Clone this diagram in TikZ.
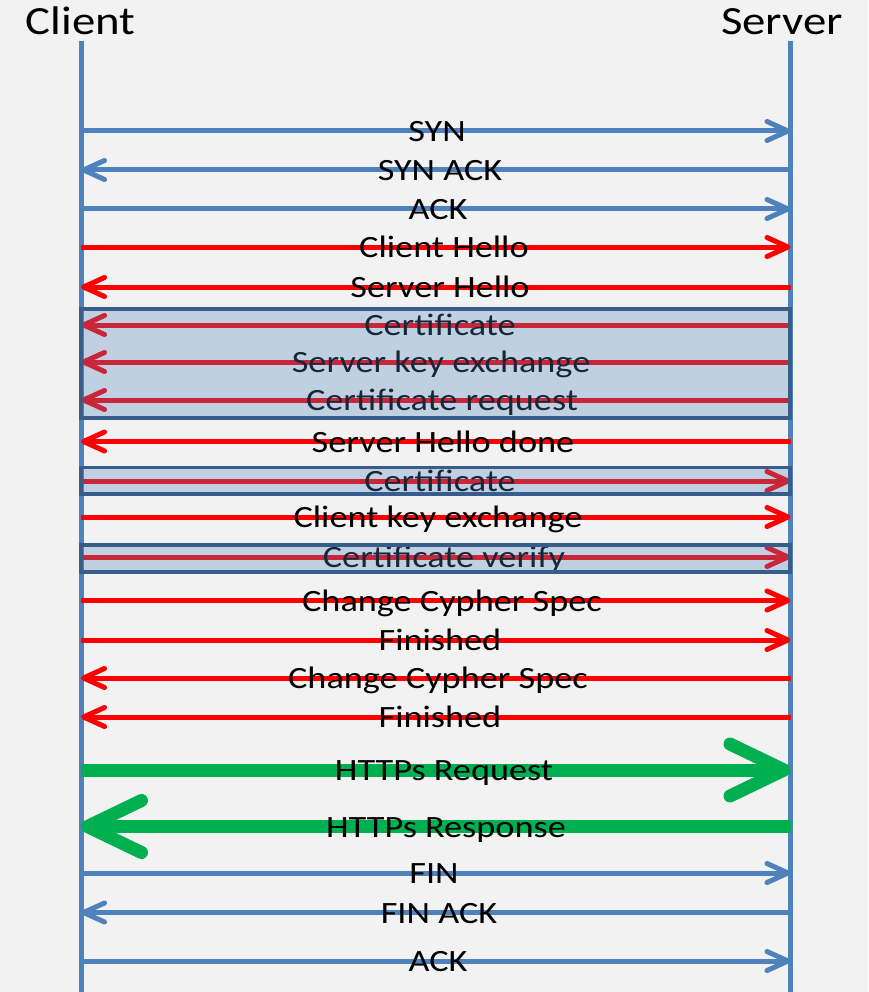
\documentclass[tikz,border=0pt]{standalone}
\usepackage{fontspec}
\setmainfont{Carlito}
\newfontfamily\widefont[FakeStretch=1.17]{Carlito}
\usetikzlibrary{arrows.meta}
\definecolor{lane}{HTML}{4F81BD}
\definecolor{msgred}{HTML}{FF0000}
\definecolor{msggreen}{HTML}{00B050}
\definecolor{boxedge}{HTML}{385D8A}
\definecolor{paper}{HTML}{F2F2F2}
\begin{document}
\begin{tikzpicture}[x=1pt,y=-1pt,
  lifeline/.style={draw=lane, line width=5pt},
  tcp/.style={draw=lane, line width=5pt, -{Straight Barb[length=21pt,width=19pt,round]}},
  tls/.style={draw=msgred, line width=5pt, -{Straight Barb[length=21pt,width=19pt,round]}},
  app/.style={draw=msggreen, line width=13pt, -{Straight Barb[length=54pt,width=52pt,round]}},
  lbl/.style={font=\widefont\fontsize{31}{33}\selectfont, anchor=base, inner sep=0pt},
  head/.style={font=\widefont\fontsize{40}{44}\selectfont, anchor=base, inner sep=0pt},
  grp/.style={draw=boxedge, line width=3.5pt, fill=lane, fill opacity=0.3}
]
\useasboundingbox (0,0) rectangle (868,992);
\fill[paper] (0,0) rectangle (868,992);

% parties and their lifelines
\node[head] (client) at (80.5,35) {Client};
\node[head] (server) at (782,35) {Server};
\coordinate (ctop) at (81,41);
\coordinate (cbot) at (81,996);
\coordinate (stop) at (790.5,41);
\coordinate (sbot) at (790.5,996);
\draw[lifeline] (ctop) -- (cbot);
\draw[lifeline] (stop) -- (sbot);

% messages: y / text / kind / from / to / label x
\foreach \y/\txt/\kind/\src/\dst/\lx [count=\i] in {
  131/SYN/tcp/cl/sv/437,
  170/SYN ACK/tcp/sv/cl/440,
  209/ACK/tcp/cl/sv/438,
  247/Client Hello/tls/cl/sv/444,
  287/Server Hello/tls/sv/cl/440,
  325/Certificate/tls/sv/cl/440,
  362/Server key exchange/tls/sv/cl/441,
  400/Certificate request/tls/sv/cl/442,
  441.5/Server Hello done/tls/sv/cl/443,
  481/Certificate/tls/cl/sv/440,
  517/Client key exchange/tls/cl/sv/438,
  557/Certificate verify/tls/cl/sv/444,
  600.5/Change Cypher Spec/tls/cl/sv/452,
  640/Finished/tls/cl/sv/440,
  678/Change Cypher Spec/tls/sv/cl/438,
  717/Finished/tls/sv/cl/440,
  770/HTTPs Request/app/cl/sv/444,
  826.5/HTTPs Response/app/sv/cl/446,
  873/FIN/tcp/cl/sv/434,
  912.5/FIN ACK/tcp/sv/cl/439,
  961/ACK/tcp/cl/sv/438}{
  \coordinate (cl\i) at (81,\y);
  \coordinate (sv\i) at (790.5,\y);
  \draw[\kind] (\src\i) -- (\dst\i);
  \node[lbl] (m\i) at (\lx,\y+10.5) {\txt};
}

% optional handshake messages
\draw[grp] (81,309) rectangle (790,418);
\draw[grp] (81,467.5) rectangle (790,494);
\draw[grp] (81,545) rectangle (790,572);
\end{tikzpicture}
\end{document}
